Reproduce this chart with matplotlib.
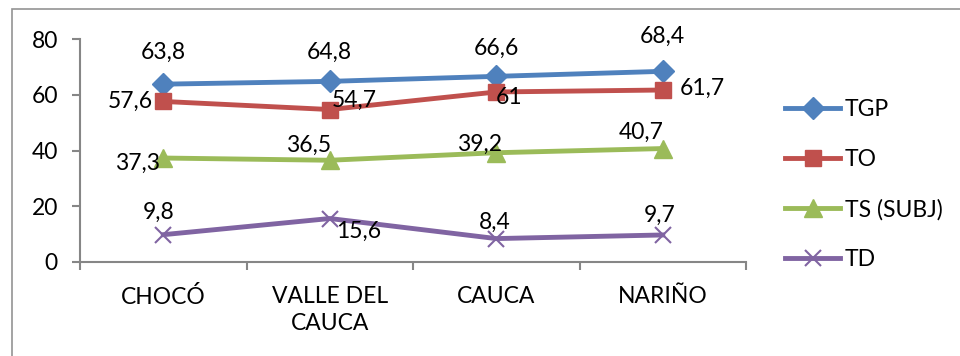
import matplotlib.pyplot as plt
from matplotlib.patches import Rectangle

# data
departamentos = ["CHOCÓ", "VALLE DEL\nCAUCA", "CAUCA", "NARIÑO"]
tgp = [63.8, 64.8, 66.6, 68.4]
to = [57.6, 54.7, 61, 61.7]
ts = [37.3, 36.5, 39.2, 40.7]
td = [9.8, 15.6, 8.4, 9.7]
series_names = ["TGP", "TO", "TS (SUBJ)", "TD"]

plt.rcParams['font.family'] = ['Lato', 'DejaVu Sans']
fs = 16.5

fig = plt.figure(figsize=(9.6, 3.56), dpi=100)
ax = fig.add_axes([80/960, 1-262/356, (746-80)/960, (262-39)/356])

x = range(len(departamentos))
styles = [
    dict(color='#4F81BD', marker='D', markersize=11),
    dict(color='#C0504D', marker='s', markersize=12),
    dict(color='#9BBB59', marker='^', markersize=13),
    dict(color='#8064A2', marker='x', markersize=12, markeredgewidth=1.5),
]
# label offsets in pixels (dx, dy)
offsets = [
    [(0, 32), (0, 29), (0, 28), (0, 35)],
    [(-33, 0), (25, 9), (13, -6), (40, 2)],
    [(-26, -5), (-21, 15), (-17, 8), (-22, 16)],
    [(-5, 22), (29, -13), (-2, 16), (-3, 20)],
]

for vals, name, st, offs in zip([tgp, to, ts, td], series_names, styles, offsets):
    ax.plot(x, vals, linewidth=3.5, label=name, **st)
    for xi, v, (dx, dy) in zip(x, vals, offs):
        ax.annotate(f"{v:g}".replace('.', ','), (xi, v), xytext=(dx, dy),
                    textcoords='offset pixels', ha='center', va='center',
                    fontsize=fs, color='black')

ax.set_xlim(-0.5, 3.5)
ax.set_ylim(0, 80)
ax.set_yticks([0, 20, 40, 60, 80])
ax.set_xticks([-0.5, 0.5, 1.5, 2.5, 3.5])
ax.set_xticklabels([])
ax.set_xticks(list(x), minor=True)
ax.set_xticklabels(departamentos, minor=True, fontsize=fs, linespacing=1.4)
ax.tick_params(axis='x', which='minor', length=0, pad=17)
ax.tick_params(axis='x', which='major', length=6, color='#868686', width=1.5)
ax.tick_params(axis='y', length=6, color='#868686', width=1.5, labelsize=fs, pad=10)
for s in ['top', 'right']:
    ax.spines[s].set_visible(False)
for s in ['left', 'bottom']:
    ax.spines[s].set_color('#868686')
    ax.spines[s].set_linewidth(1.5)

fig.legend(loc='center left', bbox_to_anchor=(785/960, 1-184.5/356), frameon=False,
           fontsize=fs, handlelength=2.4, handletextpad=0.2, labelspacing=1.25,
           borderpad=0, borderaxespad=0)

# outer chart frame
fig.patches.append(Rectangle((12/960, -0.1), 1.2, 0.975+0.1, transform=fig.transFigure,
                             fill=False, edgecolor='#939393', linewidth=1.2))

fig.savefig('out.png', dpi=100)
